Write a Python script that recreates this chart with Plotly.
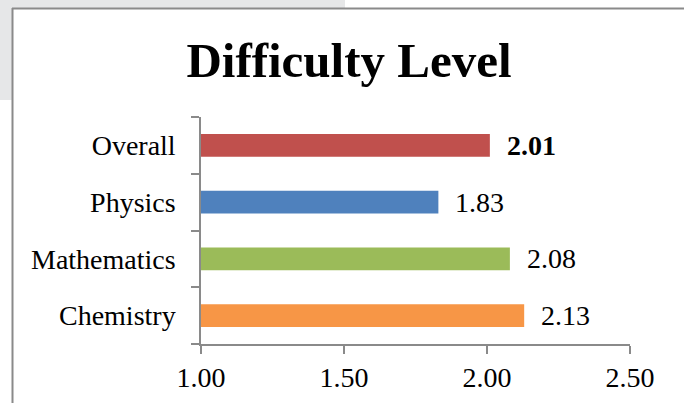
import plotly.graph_objects as go

categories = ["Chemistry", "Mathematics", "Physics", "Overall"]
values = [2.13, 2.08, 1.83, 2.01]
colors = ["#F79646", "#9BBB59", "#4F81BD", "#C0504D"]
value_labels = ["2.13", "2.08", "1.83", "<b>2.01</b>"]
x_ticks = [1.0, 1.5, 2.0, 2.5]
x_tick_labels = ["1.00", "1.50", "2.00", "2.50"]

W, H = 684, 403
L, R, T, B = 201, 54, 117, 59
pw, ph = W - L - R, H - T - B

def px(x):
    return (x - L) / pw

def py(y):
    return (H - B - y) / ph

FONT = "Liberation Serif"
AX = "#8a8a8a"

fig = go.Figure()
fig.add_trace(go.Bar(
    x=values, y=categories, orientation="h",
    marker=dict(color=colors, line=dict(width=0)),
    width=0.4, hoverinfo="skip",
))

for c, v, t in zip(categories, values, value_labels):
    fig.add_annotation(x=v, y=c, text=t, showarrow=False, xanchor="left",
                       xshift=15, font=dict(family=FONT, size=28, color="black"))

shapes = [
    dict(type="rect", xref="paper", yref="paper", x0=px(0), x1=px(12), y0=py(0), y1=py(100),
         fillcolor="#e6e7e8", line=dict(width=0), layer="below"),
    dict(type="rect", xref="paper", yref="paper", x0=px(0), x1=px(345), y0=py(0), y1=py(8),
         fillcolor="#e6e7e8", line=dict(width=0), layer="below"),
    dict(type="line", xref="paper", yref="paper", x0=px(12.5), x1=px(12.5), y0=py(8), y1=py(403),
         line=dict(color=AX, width=2)),
    dict(type="line", xref="paper", yref="paper", x0=px(12), x1=px(684), y0=py(8.5), y1=py(8.5),
         line=dict(color=AX, width=2)),
]

fig.update_layout(
    width=W, height=H,
    margin=dict(l=L, r=R, t=T, b=B, autoexpand=False),
    paper_bgcolor="white", plot_bgcolor="white",
    showlegend=False,
    shapes=shapes,
    title=dict(text="<b>Difficulty Level</b>", x=(185 + 513) / 2 / W, xanchor="center",
               y=1 - 60 / H, yanchor="middle",
               font=dict(family=FONT, size=49, color="black")),
    xaxis=dict(range=[1.0, 2.5], tickvals=x_ticks, ticktext=x_tick_labels,
               showgrid=False, zeroline=False, showline=True, linecolor=AX, linewidth=1.5,
               ticks="outside", ticklen=8, tickcolor=AX, tickwidth=1.5, automargin=False,
               tickfont=dict(family=FONT, size=28, color="black")),
    yaxis=dict(showgrid=False, zeroline=False, showline=True, linecolor=AX, linewidth=1.5,
               ticks="outside", ticklen=8, tickcolor=AX, tickwidth=1.5, tickson="boundaries",
               ticklabelstandoff=18, automargin=False,
               tickfont=dict(family=FONT, size=28, color="black")),
)

fig.write_html("out.html", config={"displayModeBar": False},
               post_script="document.body.style.margin='0px';document.body.style.overflow='hidden';")
